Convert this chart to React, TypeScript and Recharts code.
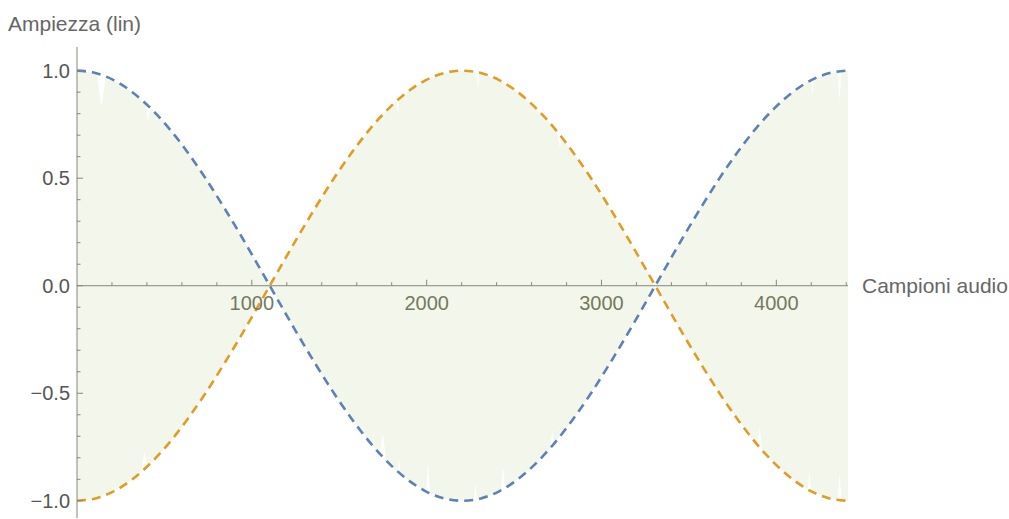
import React from 'react'
import {
  ComposedChart, Line, Area, XAxis, YAxis, ReferenceLine, ReferenceDot
} from 'recharts'

// campioni della curva (0..4410, passo 105)
const samples = [
  0, 105, 210, 315, 420, 525, 630, 735, 840, 945, 1050, 1155, 1260, 1365, 1470,
  1575, 1680, 1785, 1890, 1995, 2100, 2205, 2310, 2415, 2520, 2625, 2730, 2835,
  2940, 3045, 3150, 3255, 3360, 3465, 3570, 3675, 3780, 3885, 3990, 4095, 4200,
  4305, 4410,
]
const blueValues = [
  1, 0.989, 0.956, 0.901, 0.826, 0.733, 0.623, 0.5, 0.365, 0.223, 0.075, -0.075,
  -0.223, -0.365, -0.5, -0.623, -0.733, -0.826, -0.901, -0.956, -0.989, -1,
  -0.989, -0.956, -0.901, -0.826, -0.733, -0.623, -0.5, -0.365, -0.223, -0.075,
  0.075, 0.223, 0.365, 0.5, 0.623, 0.733, 0.826, 0.901, 0.956, 0.989, 1,
]
const yellowValues = [
  -1, -0.989, -0.956, -0.901, -0.826, -0.733, -0.623, -0.5, -0.365, -0.223, -0.075,
  0.075, 0.223, 0.365, 0.5, 0.623, 0.733, 0.826, 0.901, 0.956, 0.989, 1, 0.989,
  0.956, 0.901, 0.826, 0.733, 0.623, 0.5, 0.365, 0.223, 0.075, -0.075, -0.223,
  -0.365, -0.5, -0.623, -0.733, -0.826, -0.901, -0.956, -0.989, -1,
]

// forma d'onda (riempimento): picchi positivi e negativi
const upperSamples = [
  0, 105, 115, 139, 165, 210, 315, 395, 407, 418, 420, 525, 630, 735, 840, 945,
  1050, 1102.5, 1155, 1260, 1365, 1470, 1575, 1680, 1785, 1826, 1835, 1844, 1890,
  1995, 2100, 2205, 2284, 2293, 2302, 2310, 2415, 2520, 2625, 2730, 2748, 2762,
  2776, 2835, 2940, 3045, 3150, 3255, 3307.5, 3360, 3465, 3570, 3675, 3780, 3885,
  3990, 4095, 4200, 4201, 4208, 4215, 4305, 4352, 4362, 4372, 4410,
]
const upperPeaks = [
  1, 0.989, 0.987, 0.83, 0.974, 0.956, 0.901, 0.846, 0.76, 0.828, 0.826, 0.733,
  0.623, 0.5, 0.365, 0.223, 0.075, 0, 0.075, 0.223, 0.365, 0.5, 0.623, 0.733,
  0.826, 0.858, 0.8, 0.871, 0.901, 0.956, 0.989, 1, 0.994, 0.92, 0.99, 0.989,
  0.956, 0.901, 0.826, 0.733, 0.714, 0.64, 0.688, 0.623, 0.5, 0.365, 0.223,
  0.075, 0, 0.075, 0.223, 0.365, 0.5, 0.623, 0.733, 0.826, 0.901, 0.956, 0.956,
  0.88, 0.961, 0.989, 0.994, 0.86, 0.997, 1,
]
const lowerSamples = [
  0, 105, 210, 315, 368, 385, 402, 420, 525, 630, 735, 840, 945, 1050, 1102.5,
  1155, 1260, 1365, 1470, 1575, 1680, 1730, 1750, 1768, 1785, 1835, 1842, 1849,
  1890, 1995, 1998, 2008, 2018, 2100, 2205, 2270, 2279, 2288, 2310, 2415, 2425,
  2437, 2450, 2520, 2625, 2709, 2718, 2727, 2730, 2835, 2940, 3045, 3150, 3255,
  3307.5, 3360, 3465, 3570, 3675, 3780, 3885, 3890, 3905, 3918, 3990, 4095, 4180,
  4190, 4198, 4200, 4305, 4352, 4362, 4372, 4410,
]
const lowerPeaks = [
  -1, -0.989, -0.956, -0.901, -0.867, -0.77, -0.84, -0.826, -0.733, -0.623, -0.5,
  -0.365, -0.223, -0.075, 0, -0.075, -0.223, -0.365, -0.5, -0.623, -0.733, -0.78,
  -0.69, -0.812, -0.826, -0.865, -0.8, -0.876, -0.901, -0.956, -0.957, -0.82,
  -0.965, -0.989, -1, -0.996, -0.92, -0.991, -0.989, -0.956, -0.951, -0.84,
  -0.938, -0.901, -0.826, -0.752, -0.67, -0.736, -0.733, -0.623, -0.5, -0.365,
  -0.223, -0.075, 0, -0.075, -0.223, -0.365, -0.5, -0.623, -0.733, -0.738, -0.66,
  -0.764, -0.826, -0.901, -0.949, -0.865, -0.955, -0.956, -0.989, -0.994, -0.87,
  -0.997, -1,
]

const xTicks = [
  200, 400, 600, 800, 1000, 1200, 1400, 1600, 1800, 2000, 2200, 2400, 2600, 2800,
  3000, 3200, 3400, 3600, 3800, 4000, 4200, 4400,
]
const xMajor = [1000, 2000, 3000, 4000]
const yTicks = [
  -1, -0.9, -0.8, -0.7, -0.6, -0.5, -0.4, -0.3, -0.2, -0.1, 0, 0.1, 0.2, 0.3, 0.4,
  0.5, 0.6, 0.7, 0.8, 0.9, 1,
]
const yMajor = [-1, -0.5, 0, 0.5, 1]

const BLUE = '#5E81B5'
const YELLOW = '#E19C24'
const FILL = '#F3F7EB'
const AXIS = '#858878'
const FONT = '"Liberation Sans", Arial, sans-serif'

const lineData = samples.map((s, i) => ({ s, blue: blueValues[i], yellow: yellowValues[i] }))
const upperData = upperSamples.map((s, i) => ({ s, v: upperPeaks[i] }))
const lowerData = lowerSamples.map((s, i) => ({ s, v: lowerPeaks[i] }))

const fmtY = (v: number) => {
  const t = Math.abs(v).toFixed(1)
  return v < 0 ? '\u2212' + t : t
}

const YTick = (props: any) => {
  const { x, y, payload } = props
  const major = yMajor.includes(payload.value)
  return (
    <g>
      <line x1={x} x2={x + (major ? 6 : 3.5)} y1={y} y2={y} stroke={AXIS} strokeWidth={1} />
      {major && (
        <text x={x - 7} y={y} dy="0.36em" textAnchor="end" fill="#555" fontSize={20} fontFamily={FONT}>
          {fmtY(payload.value)}
        </text>
      )}
    </g>
  )
}

export default function App() {
  return (
    <div style={{ position: 'fixed', left: 0, top: 0, width: 1009, height: 519, overflow: 'hidden', background: '#fff', fontFamily: FONT }}>
      <div style={{ position: 'absolute', left: 8, top: 12, fontSize: 21, color: '#666', lineHeight: '24px' }}>
        Ampiezza (lin)
      </div>
      <ComposedChart width={1009} height={519} data={lineData} margin={{ top: 47, right: 161, bottom: 1, left: 0 }}>
        <XAxis dataKey="s" type="number" domain={[0, 4410]} hide allowDataOverflow />
        <YAxis
          type="number"
          domain={[-1.08, 1.11]}
          ticks={yTicks}
          interval={0}
          width={77}
          tickSize={0}
          tickMargin={0}
          tickLine={false}
          axisLine={{ stroke: AXIS, strokeWidth: 1 }}
          tick={<YTick />}
          allowDataOverflow
        />
        <Area data={upperData} dataKey="v" type="linear" stroke="none" fill={FILL} fillOpacity={1} isAnimationActive={false} />
        <Area data={lowerData} dataKey="v" type="linear" stroke="none" fill={FILL} fillOpacity={1} isAnimationActive={false} />
        <ReferenceLine y={0} stroke={AXIS} strokeWidth={1} />
        {xTicks.map(t => (
          <ReferenceDot
            key={t}
            x={t}
            y={0}
            r={0}
            shape={(p: any) => {
              const major = xMajor.includes(t)
              return (
                <g>
                  <line x1={p.cx} x2={p.cx} y1={p.cy} y2={p.cy - (major ? 6 : 3.5)} stroke={AXIS} strokeWidth={1} />
                  {major && (
                    <text x={p.cx} y={p.cy + 24} textAnchor="middle" fill="#737a5e" fontSize={20} fontFamily={FONT}>
                      {t}
                    </text>
                  )}
                </g>
              )
            }}
          />
        ))}
        <ReferenceDot
          x={4410}
          y={0}
          r={0}
          shape={(p: any) => (
            <text x={p.cx + 14} y={p.cy} dy="0.36em" fill="#666" fontSize={21} fontFamily={FONT}>
              Campioni audio
            </text>
          )}
        />
        <Line dataKey="blue" type="monotone" stroke={BLUE} strokeWidth={2.6} strokeDasharray="9 6" dot={false} isAnimationActive={false} />
        <Line dataKey="yellow" type="monotone" stroke={YELLOW} strokeWidth={2.6} strokeDasharray="9 6" dot={false} isAnimationActive={false} />
      </ComposedChart>
    </div>
  )
}
